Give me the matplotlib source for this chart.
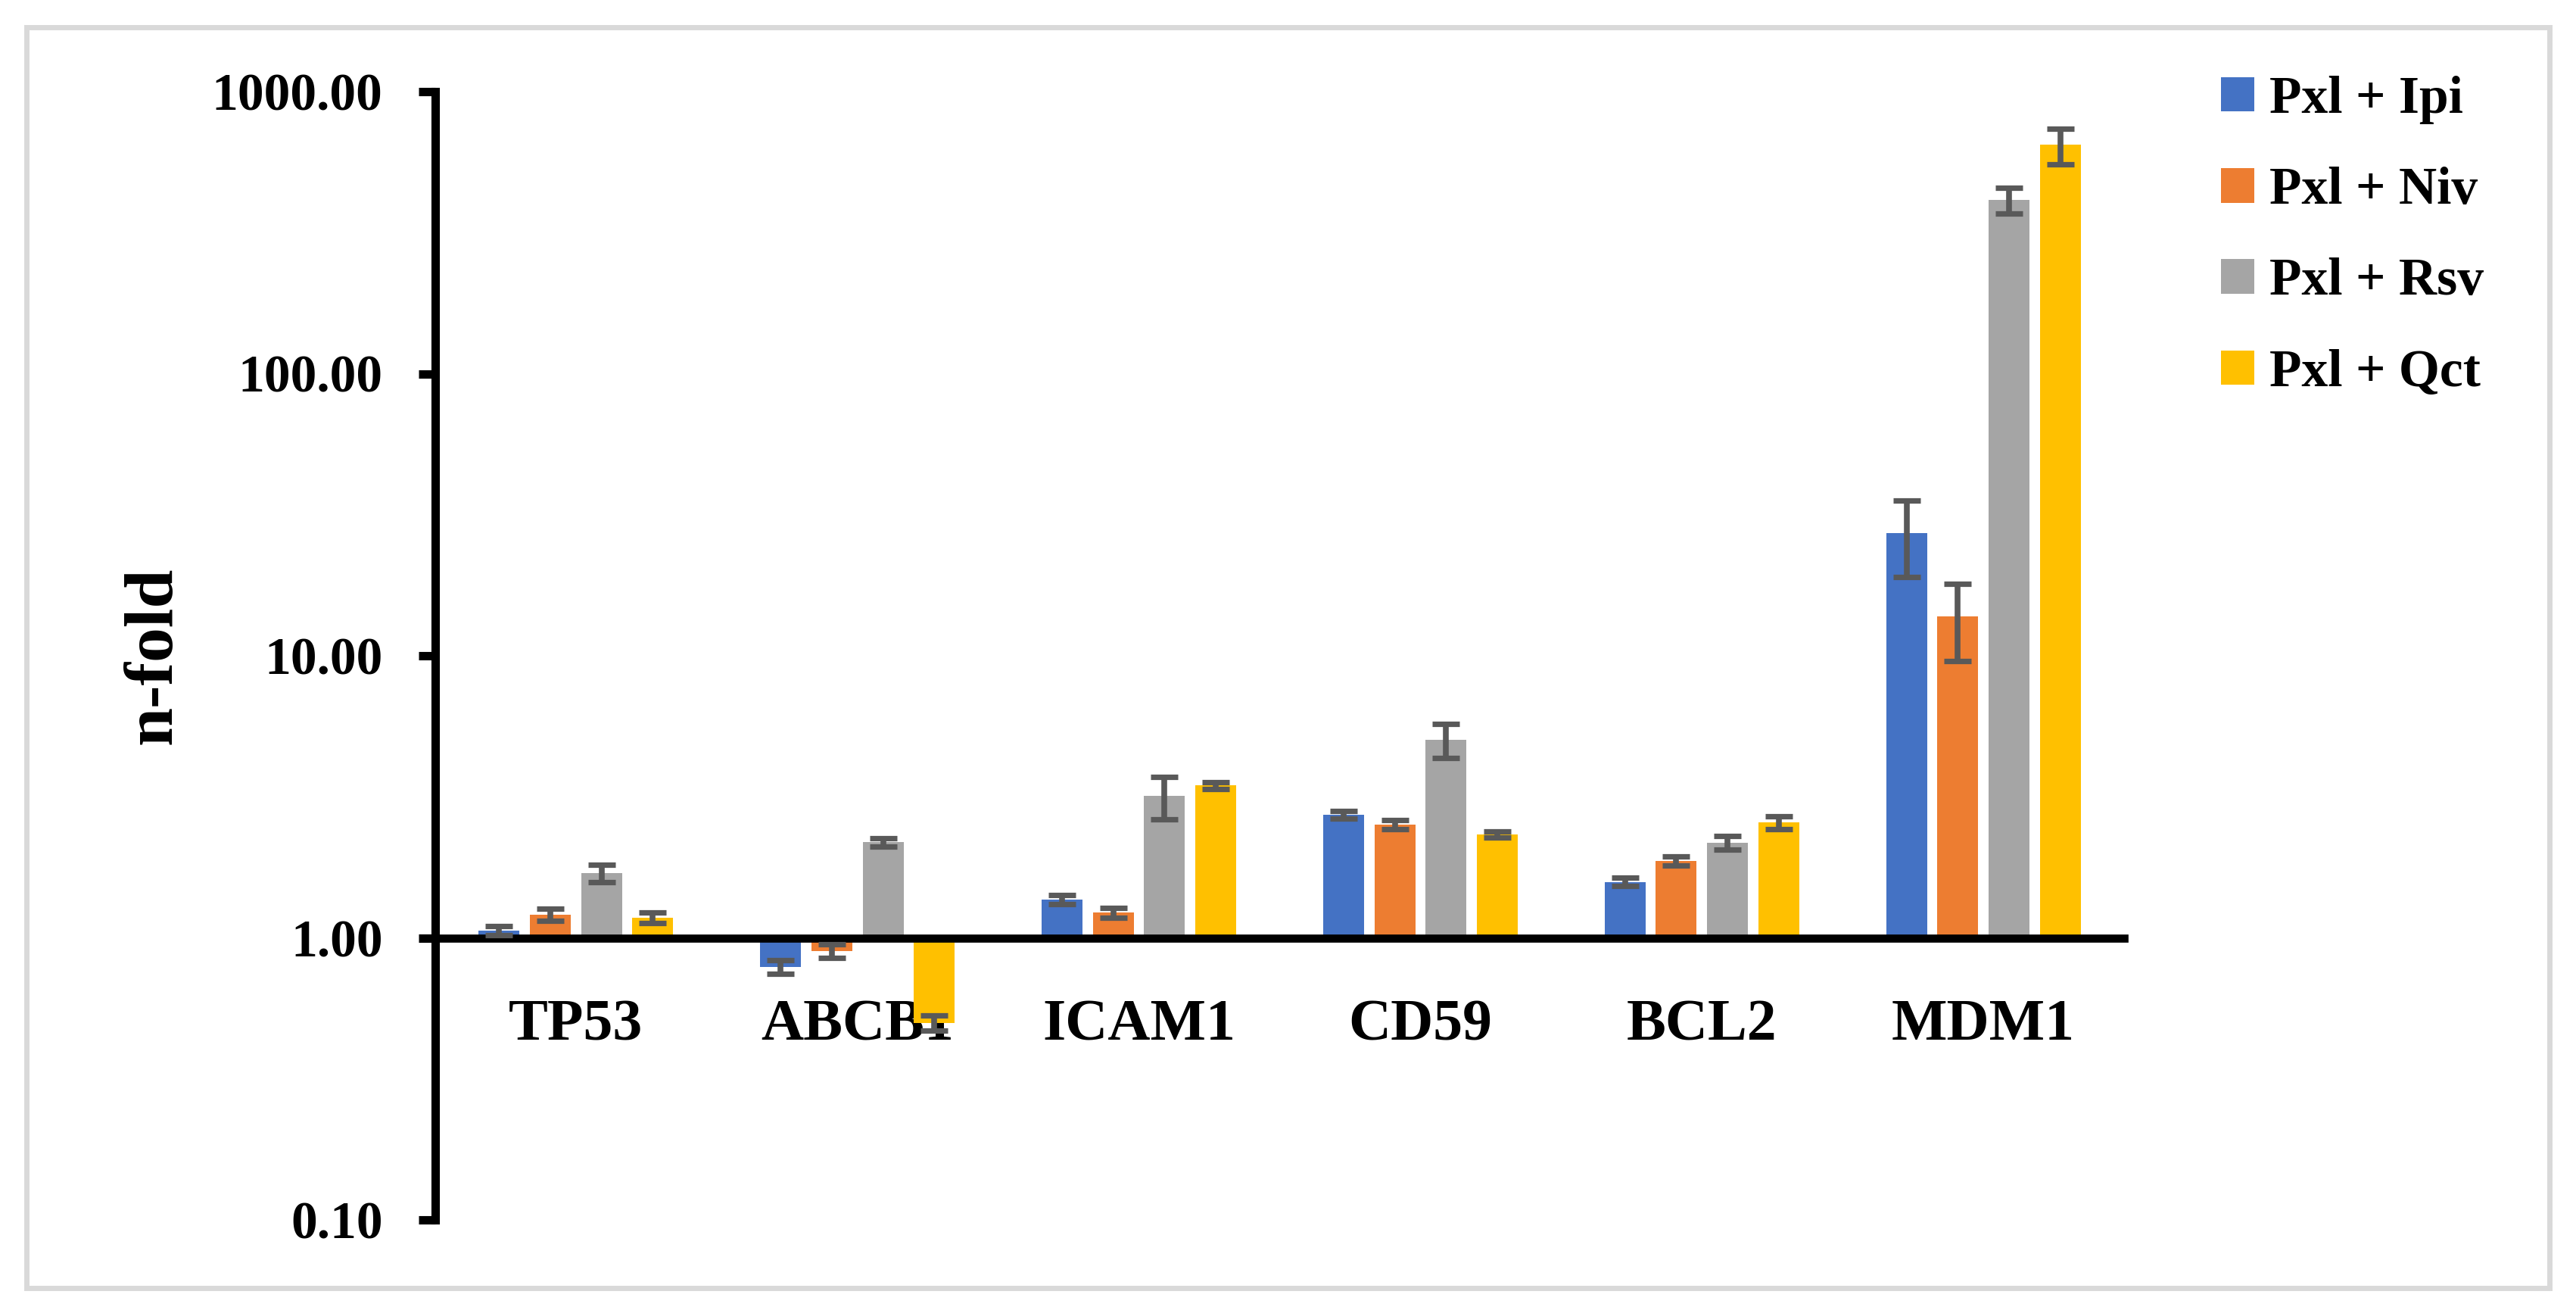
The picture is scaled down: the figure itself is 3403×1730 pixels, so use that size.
import numpy as np
import matplotlib
matplotlib.use("Agg")
import matplotlib.pyplot as plt
from matplotlib.patches import Rectangle

# gene names and treatment groups
genes = ["TP53", "ABCB1", "ICAM1", "CD59", "BCL2", "MDM1"]
groups = ["Pxl + Ipi", "Pxl + Niv", "Pxl + Rsv", "Pxl + Qct"]
colors = ["#4472C4", "#ED7D31", "#A5A5A5", "#FFC000"]

# n-fold values
ipi = [1.06, 0.79, 1.37, 2.73, 1.58, 27.3]
niv = [1.21, 0.90, 1.23, 2.52, 1.87, 13.75]
rsv = [1.70, 2.18, 3.18, 5.03, 2.17, 413.0]
qct = [1.18, 0.50, 3.47, 2.33, 2.56, 647.0]

# error bars
ipi_err = [0.04, 0.045, 0.05, 0.08, 0.05, 8.3]
niv_err = [0.06, 0.05, 0.05, 0.09, 0.07, 4.2]
rsv_err = [0.12, 0.07, 0.55, 0.70, 0.12, 44.0]
qct_err = [0.05, 0.03, 0.10, 0.06, 0.13, 93.0]

values = [ipi, niv, rsv, qct]
errors = [ipi_err, niv_err, rsv_err, qct_err]

plt.rcParams['font.family'] = ['Liberation Serif', 'DejaVu Serif']
plt.rcParams['font.weight'] = 'bold'

fig = plt.figure(figsize=(3403 / 200, 1730 / 200), dpi=200)
ax = fig.add_axes([575 / 3403, 1 - 1611 / 1730, (2806 - 575) / 3403, (1611 - 121) / 1730])

x = np.arange(len(genes))
step = 0.182
width = 0.145
for i in range(4):
    pos = x + (i - 1.5) * step
    v = np.array(values[i])
    # bars start from 1 (the x axis crosses there), going down for values < 1
    ax.bar(pos, v - 1, bottom=1, width=width, color=colors[i], label=groups[i], zorder=2)
    ax.errorbar(pos, v, yerr=errors[i], fmt='none', ecolor='#595959',
                elinewidth=2.75, capsize=6.5, capthick=2.6, zorder=3)

ax.set_yscale('log')
ax.set_ylim(0.1, 1000)
ax.set_xlim(-0.5, 5.5)
ax.set_yticks([0.1, 1, 10, 100, 1000])
ax.set_yticklabels(["%.2f" % t for t in [0.1, 1, 10, 100, 1000]])
ax.yaxis.set_minor_locator(matplotlib.ticker.NullLocator())
ax.set_xticks(x)
ax.set_xticklabels(genes)

ax.spines['top'].set_visible(False)
ax.spines['right'].set_visible(False)
ax.spines['bottom'].set_position(('data', 1))
ax.spines['bottom'].set_linewidth(3.85)
ax.spines['left'].set_linewidth(4.0)
ax.tick_params(axis='y', direction='out', length=8, width=4.0, pad=17, labelsize=25)
ax.tick_params(axis='x', length=0, pad=29, labelsize=28)
for lab in ax.get_xticklabels() + ax.get_yticklabels():
    lab.set_fontweight('bold')

ax.set_ylabel("n-fold", fontsize=33, fontweight='bold')
ax.yaxis.set_label_coords(-0.148, 0.5)

ax.legend(loc='upper left', bbox_to_anchor=(2934 / 3403, 1 - 100 / 1730),
          bbox_transform=fig.transFigure, frameon=False, fontsize=25,
          handlelength=0.634, handleheight=0.634, handletextpad=0.29,
          labelspacing=0.81, borderpad=0, borderaxespad=0)

# light grey frame around the whole chart
fig.patches.append(Rectangle((35 / 3403, 29 / 1730), (3368 - 35) / 3403, (1694 - 29) / 1730,
                             transform=fig.transFigure, fill=False,
                             edgecolor='#D9D9D9', linewidth=2.5))

fig.savefig("out.png", dpi=200)
